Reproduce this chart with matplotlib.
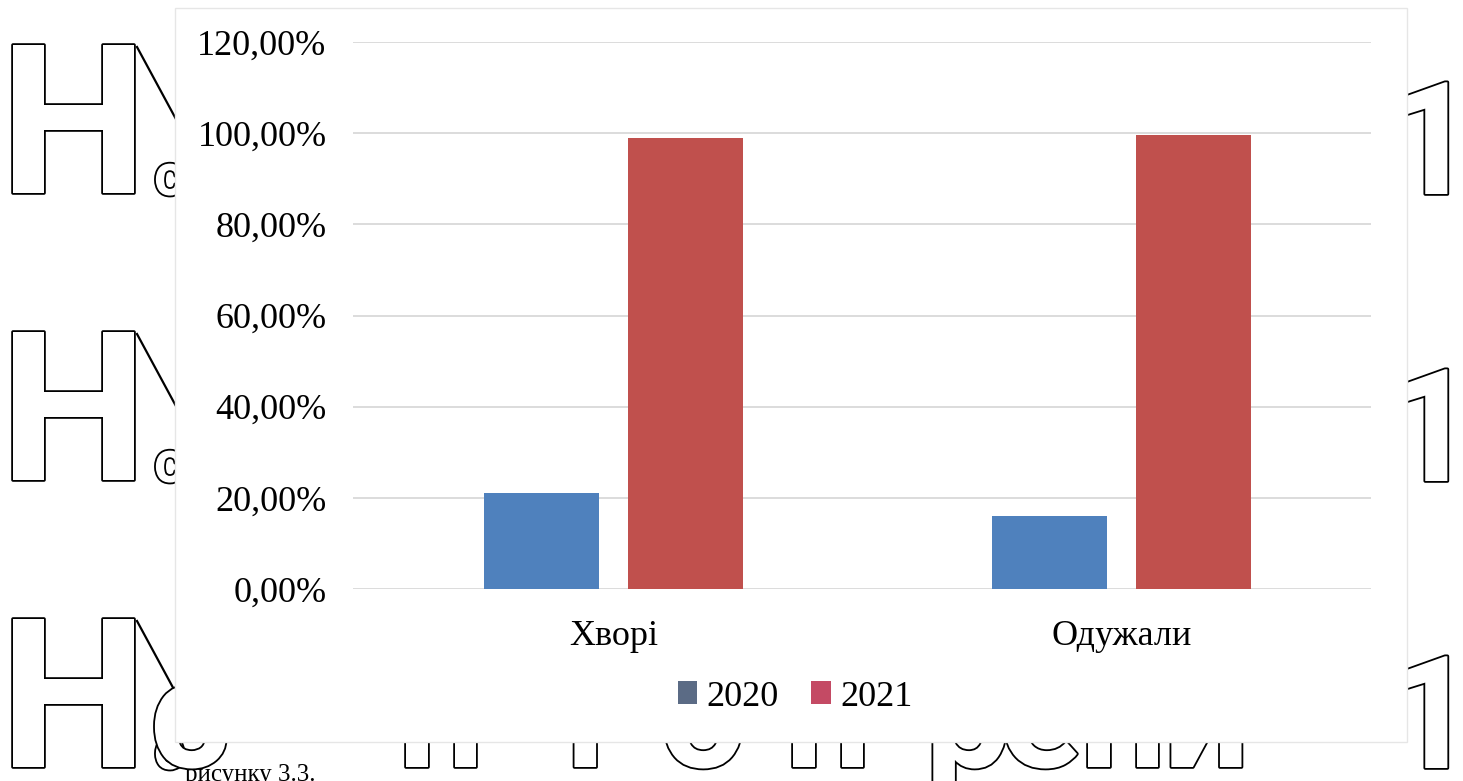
import matplotlib
matplotlib.use("Agg")
import matplotlib.pyplot as plt
import matplotlib.patheffects as pe
from matplotlib.patches import Rectangle, Patch
from matplotlib.lines import Line2D
import numpy as np

# ---- data ----
categories = ["Хворі", "Одужали"]
series_names = ["2020", "2021"]
values_2020 = [0.21, 0.16]
values_2021 = [0.99, 0.996]
y_ticks = [0.0, 0.2, 0.4, 0.6, 0.8, 1.0, 1.2]

bar_colors = ["#4f81bd", "#c0504d"]
legend_colors = ["#5b6b85", "#c44a64"]

W, H = 1463, 781
fig = plt.figure(figsize=(W / 100, H / 100), dpi=100)
fig.patch.set_facecolor("white")


def fx(px):
    return px / W


def fy(py):
    return 1 - py / H


# ---- page text behind the chart (large outlined glyphs) ----
outline = [pe.withStroke(linewidth=2.6, foreground="black")]
glyph_font = dict(family="Roboto", fontweight="bold", color="white",
                  path_effects=outline, ha="left", va="baseline", zorder=1)

row_baselines = [193, 480, 767]
for base in row_baselines:
    fig.text(fx(0), fy(base), "Н", fontsize=150, **glyph_font)
    fig.text(fx(154), fy(base + 2), "с", fontsize=42, **glyph_font)
    fig.text(fx(1386), fy(base + 1), "1", fontsize=113, **glyph_font)
    fig.add_artist(Line2D([fx(137), fx(177)], [fy(base - 146), fy(base - 72)],
                          transform=fig.transFigure, color="black",
                          linewidth=1.6, zorder=1))

# lower halves of the last line of page text
bottom_letters = [("с", 150), ("п", 398), ("і", 565), ("о", 660),
                  ("п", 785), ("р", 925), ("е", 1000), ("п", 1080),
                  ("и", 1163)]
for ch, xpos in bottom_letters:
    fig.text(fx(xpos), fy(767), ch, fontsize=110, **glyph_font)

fig.text(fx(185), fy(781), "рисунку 3.3.", fontsize=18,
         family="Liberation Serif", color="black", ha="left",
         va="baseline", zorder=3)

# ---- chart area ----
fig.add_artist(Rectangle((fx(175), fy(742)), fx(1407) - fx(175),
                         fy(8) - fy(742), transform=fig.transFigure,
                         facecolor="white", edgecolor="#e6e6e6",
                         linewidth=1.0, zorder=2))

ax = fig.add_axes([fx(353), fy(589), fx(1371) - fx(353), fy(42) - fy(589)],
                  zorder=4)
ax.set_facecolor("none")

x = np.arange(len(categories))
offset = 0.1416
width = 0.226
ax.bar(x - offset, values_2020, width, color=bar_colors[0], zorder=3)
ax.bar(x + offset, values_2021, width, color=bar_colors[1], zorder=3)

ax.set_xlim(-0.512, 1.49)
ax.set_ylim(0, 1.2)
ax.set_yticks(y_ticks)
ax.set_yticklabels([f"{v * 100:.2f}%".replace(".", ",") for v in y_ticks])
ax.set_xticks(x)
ax.set_xticklabels(categories)

for lab in ax.get_xticklabels() + ax.get_yticklabels():
    lab.set_fontfamily("Liberation Serif")
    lab.set_fontsize(26)
    lab.set_color("black")

ax.tick_params(axis="y", length=0, pad=19)
ax.tick_params(axis="x", length=0, pad=22)
ax.grid(axis="y", color="#dcdcdc", linewidth=1.4, zorder=0)
for s in ax.spines.values():
    s.set_visible(False)
ax.axhline(0, color="#dcdcdc", linewidth=1.4, zorder=1)

handles = [Patch(facecolor=c, edgecolor="none") for c in legend_colors]
fig.legend(handles, series_names, loc="center",
           bbox_to_anchor=(fx(795), fy(697)), ncol=2, frameon=False,
           prop={"family": "Liberation Serif", "size": 26},
           handlelength=0.55, handleheight=0.6, handletextpad=0.25,
           columnspacing=0.9)

fig.savefig("out.png", dpi=100, facecolor="white")
